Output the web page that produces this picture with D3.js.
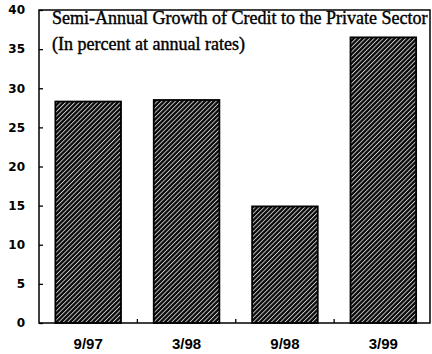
<!DOCTYPE html>
<html>
<head>
<meta charset="utf-8">
<script src="https://cdn.jsdelivr.net/npm/d3@7"></script>
<style>
  html, body { margin: 0; padding: 0; background: #fff; }
  svg { display: block; }
</style>
</head>
<body>
<svg id="chart" width="432" height="354"></svg>
<script>
// Semi-annual growth of private-sector credit, percent at annual rates
const periods = ["9/97", "3/98", "9/98", "3/99"];
const growth = [28.3, 28.5, 14.9, 36.5];
const yTicks = [0, 5, 10, 15, 20, 25, 30, 35, 40];
const titleLines = [
  "Semi-Annual Growth of Credit to the Private Sector",
  "(In percent at annual rates)"
];

const svg = d3.select("#chart");
const frame = { left: 39, right: 430, top: 10, bottom: 323 };

const x = d3.scaleBand()
  .domain(periods)
  .range([frame.left, 432.5])
  .paddingInner(0.333)
  .paddingOuter(0.1665);

const y = d3.scaleLinear()
  .domain([0, 40])
  .range([frame.bottom, frame.top]);

// dense "/" hatching used for the bars
const defs = svg.append("defs");
const pat = defs.append("pattern")
  .attr("id", "hatch")
  .attr("patternUnits", "userSpaceOnUse")
  .attr("width", 3.2)
  .attr("height", 3.2)
  .attr("patternTransform", "rotate(-45)");
pat.append("rect").attr("width", 3.2).attr("height", 3.2).attr("fill", "#0a0a0a");
pat.append("rect").attr("x", 0).attr("y", 0).attr("width", 3.2).attr("height", 0.9).attr("fill", "#cfcfcf");

// bars
svg.append("g")
  .selectAll("rect")
  .data(periods.map((p, i) => ({ p, v: growth[i] })))
  .join("rect")
  .attr("x", d => x(d.p))
  .attr("y", d => y(d.v))
  .attr("width", x.bandwidth())
  .attr("height", d => y(0) - y(d.v))
  .attr("fill", "url(#hatch)")
  .attr("stroke", "#000")
  .attr("stroke-width", 1.8);

// plot frame
svg.append("rect")
  .attr("x", frame.left)
  .attr("y", frame.top)
  .attr("width", frame.right - frame.left)
  .attr("height", frame.bottom - frame.top)
  .attr("fill", "none")
  .attr("stroke", "#000")
  .attr("stroke-width", 1.5);

// y axis: inward ticks, bold labels
const yAxis = svg.append("g")
  .attr("transform", `translate(${frame.left},0)`)
  .call(d3.axisRight(y).tickValues(yTicks).tickSize(4).tickFormat(""));
yAxis.select(".domain").remove();
yAxis.selectAll("line").attr("stroke", "#000").attr("stroke-width", 1.3);

svg.append("g")
  .selectAll("text")
  .data(yTicks)
  .join("text")
  .attr("x", 25)
  .attr("y", d => y(d))
  .attr("dy", "0.36em")
  .attr("text-anchor", "end")
  .attr("font-family", "DejaVu Sans")
  .attr("font-weight", "bold")
  .attr("font-size", 12)
  .text(d => d);

// x axis: short upward ticks at category boundaries
const step = x.step();
const bounds = periods.slice(0, -1).map(p => x(p) + x.bandwidth() / 2 + step / 2);
svg.append("g")
  .selectAll("line")
  .data(bounds)
  .join("line")
  .attr("x1", d => d).attr("x2", d => d)
  .attr("y1", frame.bottom).attr("y2", frame.bottom - 4)
  .attr("stroke", "#000")
  .attr("stroke-width", 1.3);

svg.append("g")
  .selectAll("text")
  .data(periods)
  .join("text")
  .attr("x", d => x(d) + x.bandwidth() / 2)
  .attr("y", 349)
  .attr("text-anchor", "middle")
  .attr("font-family", "Liberation Sans")
  .attr("font-weight", "bold")
  .attr("font-size", 15)
  .text(d => d);

// title block inside the frame
svg.append("g")
  .selectAll("text")
  .data(titleLines)
  .join("text")
  .attr("x", 52)
  .attr("y", (d, i) => 24 + i * 26)
  .attr("font-family", "Liberation Serif")
  .attr("font-size", 18)
  .attr("fill", "#000")
  .attr("stroke", "#000")
  .attr("stroke-width", 0.4)
  .text(d => d);
</script>
</body>
</html>
